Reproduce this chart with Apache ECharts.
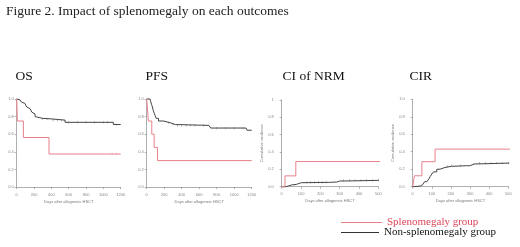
<!DOCTYPE html>
<html>
<head>
<meta charset="utf-8">
<script src="https://cdn.jsdelivr.net/npm/echarts@6/dist/echarts.min.js"></script>
<style>html,body{margin:0;padding:0;background:#fff}#c{width:520px;height:247px}</style>
</head>
<body>
<div id="c"></div>
<script>
// ---- data ----
const panelTitles = ['OS', 'PFS', 'CI of NRM', 'CIR'];
const mainTitle = 'Figure 2. Impact of splenomegaly on each outcomes';
const xTitle = 'Days after allogeneic HSCT';
const yTitleCI = 'Cumulative incidence';
const legendNames = ['Splenomegaly group', 'Non-splenomegaly group'];
const xTicksSurv = [0, 200, 400, 600, 800, 1000, 1200];
const xTicksCI = [0, 100, 200, 300, 400, 500];
const yTicks = [0, 0.2, 0.4, 0.6, 0.8, 1.0];

const osRed = [[0,1],[8,0.75],[77,0.5625],[373,0.375],[1200,0.375]];
const osBlack = [[0,1],[20,0.99],[38,0.98],[55,0.965],[77,0.95],[95,0.93],[115,0.91],[135,0.89],[154,0.87],[175,0.85],[192,0.83],[212,0.80],[231,0.78],[300,0.775],[385,0.76],[558,0.735],[1115,0.71],[1200,0.71]];
const pfsRed = [[0,1],[19,0.75],[58,0.6],[85,0.45],[123,0.3],[1200,0.3]];
const pfsBlack = [[0,1],[38,0.99],[46,0.97],[55,0.94],[65,0.91],[75,0.87],[85,0.84],[97,0.81],[108,0.78],[135,0.75],[192,0.73],[269,0.71],[327,0.70],[712,0.70],[731,0.67],[1135,0.66],[1146,0.645],[1200,0.645]];
const nrmRed = [[0,0],[17,0.125],[73,0.29],[512,0.29]];
const nrmBlack = [[0,0],[22,0.008],[34,0.02],[51,0.027],[77,0.038],[90,0.046],[102,0.05],[247,0.054],[285,0.065],[299,0.073],[503,0.073]];
const cirRed = [[0,0],[9,0.125],[48,0.286],[117,0.43],[522,0.43]];
const cirBlack = [[0,0],[5,0.004],[22,0.008],[40,0.023],[52,0.038],[62,0.057],[74,0.069],[83,0.084],[91,0.115],[100,0.145],[109,0.17],[126,0.2],[143,0.22],[169,0.233],[203,0.24],[281,0.24],[298,0.26],[324,0.27],[505,0.27]];

const osCensor = [300,350,420,470,520,600,700,800,900,1000,1050,1150];
const osRedCensor = [1100,1150];
const pfsCensor = [250,300,350,400,450,500,550,650,800,900,1000,1100];
const nrmCensor = [130,150,170,190,210,230,320,350,380,410,440,470,500];
const cirCensor = [180,203,250,320,350,380,410,440,470,500];

// ---- helpers ----
function stepVal(curve, t){ let v = curve[0][1]; for (const p of curve){ if (p[0] <= t) v = p[1]; } return v; }
function censorPts(curve, times){ return times.map(t => [t, stepVal(curve, t)]); }

const RED = '#e8808a';
const BLACK = '#444';
const AX = '#9a9a9a';

const grids = [
  {left:16.7, top:99, width:104, height:88},
  {left:146.7, top:99, width:105, height:88},
  {left:281.7, top:100, width:96.6, height:86.7},
  {left:412.7, top:99.3, width:95.6, height:87.4}
];
const xMax = [1200,1200,500,500];
const xInt = [200,200,100,100];
const yOffset = [0,0,5,5];

const xAxes = grids.map((g,i)=>({
  type:'value', gridIndex:i, min:0, max:xMax[i], interval:xInt[i], offset:3.5,
  axisLine:{show:true, lineStyle:{color:AX, width:0.8}},
  axisTick:{show:true, length:2, lineStyle:{color:AX, width:0.8}},
  axisLabel:{fontSize:4, color:'#888', margin:2, formatter:v=>String(v)},
  splitLine:{show:false},
  name:xTitle, nameLocation:'middle', nameGap:9, nameTextStyle:{fontSize:4, color:'#777'}
}));
const yAxes = grids.map((g,i)=>({
  type:'value', gridIndex:i, min:0, max:1, interval:0.2, offset:yOffset[i],
  axisLine:{show:true, lineStyle:{color:AX, width:0.8}},
  axisTick:{show:true, length:2, lineStyle:{color:AX, width:0.8}},
  axisLabel:{fontSize:4, color:'#888', margin:3, formatter:v=> (i===2 && v===1) ? '1' : v.toFixed(1)},
  splitLine:{show:false},
  name: i>=2 ? yTitleCI : '', nameLocation:'middle', nameGap:7, nameRotate:90, nameTextStyle:{fontSize:4, color:'#777'}
}));

const curves = [[osRed, osBlack],[pfsRed, pfsBlack],[nrmRed, nrmBlack],[cirRed, cirBlack]];
const censors = [osCensor, pfsCensor, nrmCensor, cirCensor];
const series = [];
curves.forEach((pair,i)=>{
  series.push({name:legendNames[0], type:'line', step:'end', xAxisIndex:i, yAxisIndex:i, data:pair[0], showSymbol:false, clip:false, lineStyle:{color:RED, width:1}, itemStyle:{color:RED}, silent:true, animation:false, z:3});
  series.push({name:legendNames[1], type:'line', step:'end', xAxisIndex:i, yAxisIndex:i, data:pair[1], showSymbol:false, clip:false, lineStyle:{color:BLACK, width:1}, itemStyle:{color:BLACK}, silent:true, animation:false, z:2});
  series.push({name:legendNames[1], type:'scatter', xAxisIndex:i, yAxisIndex:i, data:censorPts(pair[1], censors[i]), symbol:'rect', symbolSize:[0.6,2.2], itemStyle:{color:'#666'}, silent:true, animation:false, z:2});
});
series.push({name:legendNames[0], type:'scatter', xAxisIndex:0, yAxisIndex:0, data:censorPts(osRed, osRedCensor), symbol:'rect', symbolSize:[0.6,2.2], itemStyle:{color:RED}, silent:true, animation:false});

const chart = echarts.init(document.getElementById('c'), null, {renderer:'canvas'});
chart.setOption({
  backgroundColor:'#fff',
  animation:false,
  title:[
    {text:mainTitle, left:6, top:4, textStyle:{fontFamily:'Liberation Serif', fontSize:13.5, fontWeight:'normal', color:'#222'}},
    {text:panelTitles[0], left:15.5, top:69, textStyle:{fontFamily:'Liberation Serif', fontSize:13.5, fontWeight:'normal', color:'#111'}},
    {text:panelTitles[1], left:145.5, top:69, textStyle:{fontFamily:'Liberation Serif', fontSize:13.5, fontWeight:'normal', color:'#111'}},
    {text:panelTitles[2], left:282.5, top:69, textStyle:{fontFamily:'Liberation Serif', fontSize:13.5, fontWeight:'normal', color:'#111'}},
    {text:panelTitles[3], left:409.5, top:69, textStyle:{fontFamily:'Liberation Serif', fontSize:13.5, fontWeight:'normal', color:'#111'}}
  ].map(t=>Object.assign({padding:0}, t)),
  legend:[
    {left:341, top:217, padding:0, itemWidth:41, itemHeight:1.2, icon:'rect', selectedMode:false,
     data:[{name:legendNames[0], itemStyle:{color:RED}, textStyle:{color:'#e0455a'}}],
     textStyle:{fontFamily:'Liberation Serif', fontSize:11}},
    {left:341, top:227, padding:0, itemWidth:38, itemHeight:1.2, icon:'rect', selectedMode:false,
     data:[{name:legendNames[1], itemStyle:{color:'#333'}, textStyle:{color:'#111'}}],
     textStyle:{fontFamily:'Liberation Serif', fontSize:11}}
  ],
  grid:grids,
  xAxis:xAxes,
  yAxis:yAxes,
  series:series
});
</script>
</body>
</html>
